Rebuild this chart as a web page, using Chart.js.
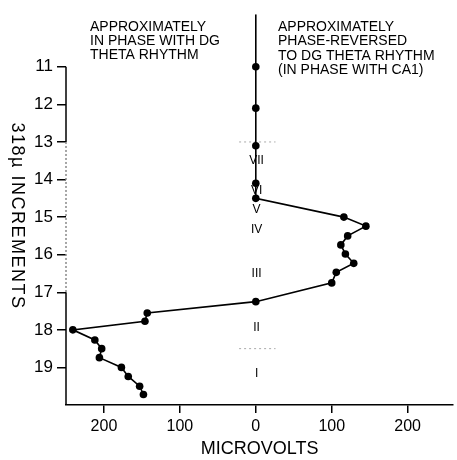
<!DOCTYPE html>
<html>
<head>
<meta charset="utf-8">
<script src="https://cdn.jsdelivr.net/npm/chart.js@4/dist/chart.umd.min.js"></script>
<style>
  html, body { margin: 0; padding: 0; background: #fff; }
  #wrap { width: 457px; height: 460px; position: relative; }
</style>
</head>
<body>
<div id="wrap"><canvas id="c" width="457" height="460"></canvas></div>
<script>
// ---- data (microvolts: negative = left side, in phase with DG theta) ----
const depths     = [11.0, 12.1, 13.1, 14.1, 14.5, 15.0, 15.24, 15.5, 15.74, 15.98, 16.23, 16.47, 16.75, 17.25, 17.55, 17.77, 18.0, 18.27, 18.5, 18.74, 19.0, 19.24, 19.5, 19.72];
const microvolts = [0, 0, 0, 0, 0, 116, 145, 121, 112, 118, 129, 106, 100, 0, -143, -146, -241, -212, -203, -206, -177, -168, -153, -148];
const zeroLineDepths = [9.6, 11.0];
const yTickValues = [11, 12, 13, 14, 15, 16, 17, 18, 19];
const xTickValues = [-200, -100, 0, 100, 200];
const layerLabels = ['VII', 'VI', 'V', 'IV', 'III', 'II', 'I'];
const layerDepths = [13.5, 14.29, 14.81, 15.33, 16.51, 17.93, 19.16];
const boundaryDepths = [13.0, 18.5];
const leftNote  = ['APPROXIMATELY', 'IN PHASE WITH DG', 'THETA RHYTHM'];
const rightNote = ['APPROXIMATELY', 'PHASE-REVERSED', 'TO DG THETA RHYTHM', '(IN PHASE WITH CA1)'];
const yTitle = '318\u00B5 INCREMENTS';
const xTitle = 'MICROVOLTS';

const FONT = '"Liberation Sans", Arial, sans-serif';

const points = depths.map((d, i) => ({ x: microvolts[i], y: d }));
const zeroExt = zeroLineDepths.map(d => ({ x: 0, y: d }));

const extras = {
  id: 'extras',
  beforeDatasetsDraw(chart) {
    const { ctx, scales: { x, y }, chartArea } = chart;
    ctx.save();
    // faint layer boundary marks
    ctx.strokeStyle = '#aaa';
    ctx.lineWidth = 1;
    ctx.setLineDash([2, 3]);
    boundaryDepths.forEach(d => {
      const py = y.getPixelForValue(d);
      ctx.beginPath();
      ctx.moveTo(x.getPixelForValue(-22), py);
      ctx.lineTo(x.getPixelForValue(26), py);
      ctx.stroke();
    });
    ctx.setLineDash([]);
    // left axis line starting at depth 11
    const lx = chartArea.left;
    const seg = (a, b, color, dash) => {
      ctx.strokeStyle = color; ctx.setLineDash(dash); ctx.lineWidth = 1.5;
      ctx.beginPath();
      ctx.moveTo(lx, y.getPixelForValue(a));
      ctx.lineTo(lx, y.getPixelForValue(b));
      ctx.stroke();
    };
    seg(11, 13, '#000', []);
    seg(13, 17, '#888', [2, 2]);
    seg(17, y.max, '#000', []);
    ctx.setLineDash([]);
    ctx.restore();
  },
  afterDraw(chart) {
    const { ctx, scales: { x, y } } = chart;
    ctx.save();
    ctx.fillStyle = '#000';
    // layer roman numerals
    ctx.font = '12px ' + FONT;
    ctx.textAlign = 'center';
    ctx.textBaseline = 'middle';
    layerLabels.forEach((t, i) => {
      ctx.fillText(t, x.getPixelForValue(1), y.getPixelForValue(layerDepths[i]));
    });
    // notes
    ctx.font = '14px ' + FONT;
    ctx.textAlign = 'left';
    ctx.textBaseline = 'middle';
    leftNote.forEach((t, i) => ctx.fillText(t, 90, 27 + i * 14));
    rightNote.forEach((t, i) => ctx.fillText(t, 278, 27 + i * 14.5));
    // y title rotated clockwise
    ctx.translate(17, 216);
    ctx.rotate(Math.PI / 2);
    ctx.font = '18px ' + FONT;
    ctx.textAlign = 'center';
    try { ctx.letterSpacing = '1.5px'; } catch (e) {}
    ctx.fillText(yTitle, 0, 0);
    ctx.restore();
  }
};

new Chart(document.getElementById('c'), {
  type: 'scatter',
  data: {
    datasets: [
      {
        data: points,
        showLine: true,
        borderColor: '#000',
        backgroundColor: '#000',
        borderWidth: 1.6,
        pointRadius: 3.8,
        pointHoverRadius: 3.8,
        pointBorderWidth: 0
      },
      {
        data: zeroExt,
        showLine: true,
        borderColor: '#000',
        borderWidth: 1.6,
        pointRadius: 0
      }
    ]
  },
  options: {
    responsive: false,
    animation: false,
    events: [],
    layout: { padding: { top: 8, left: 0, right: 0, bottom: 0 } },
    plugins: { legend: { display: false }, tooltip: { enabled: false } },
    scales: {
      x: {
        type: 'linear',
        min: -250,
        max: 260,
        afterBuildTicks: s => { s.ticks = xTickValues.map(v => ({ value: v })); },
        afterFit: s => { s.height = 55; },
        ticks: {
          color: '#000',
          font: { family: FONT, size: 16 },
          padding: 4,
          maxRotation: 0,
          callback: v => String(Math.abs(v))
        },
        grid: { drawOnChartArea: false, drawTicks: true, tickLength: 8, color: '#000', lineWidth: 1.5 },
        border: { display: true, color: '#000', width: 1.5 },
        title: { display: true, text: xTitle, color: '#000', font: { family: FONT, size: 18 }, padding: { top: 0, bottom: 0 } }
      },
      y: {
        type: 'linear',
        reverse: true,
        min: 9.6,
        max: 20,
        afterBuildTicks: s => { s.ticks = yTickValues.map(v => ({ value: v })); },
        afterFit: s => { s.width = 66; },
        ticks: {
          color: '#000',
          font: { family: FONT, size: 17 },
          padding: 4,
          callback: v => String(v)
        },
        grid: { drawOnChartArea: false, drawTicks: true, tickLength: 9, color: '#000', lineWidth: 1.5 },
        border: { display: false }
      }
    }
  },
  plugins: [extras]
});
</script>
</body>
</html>
